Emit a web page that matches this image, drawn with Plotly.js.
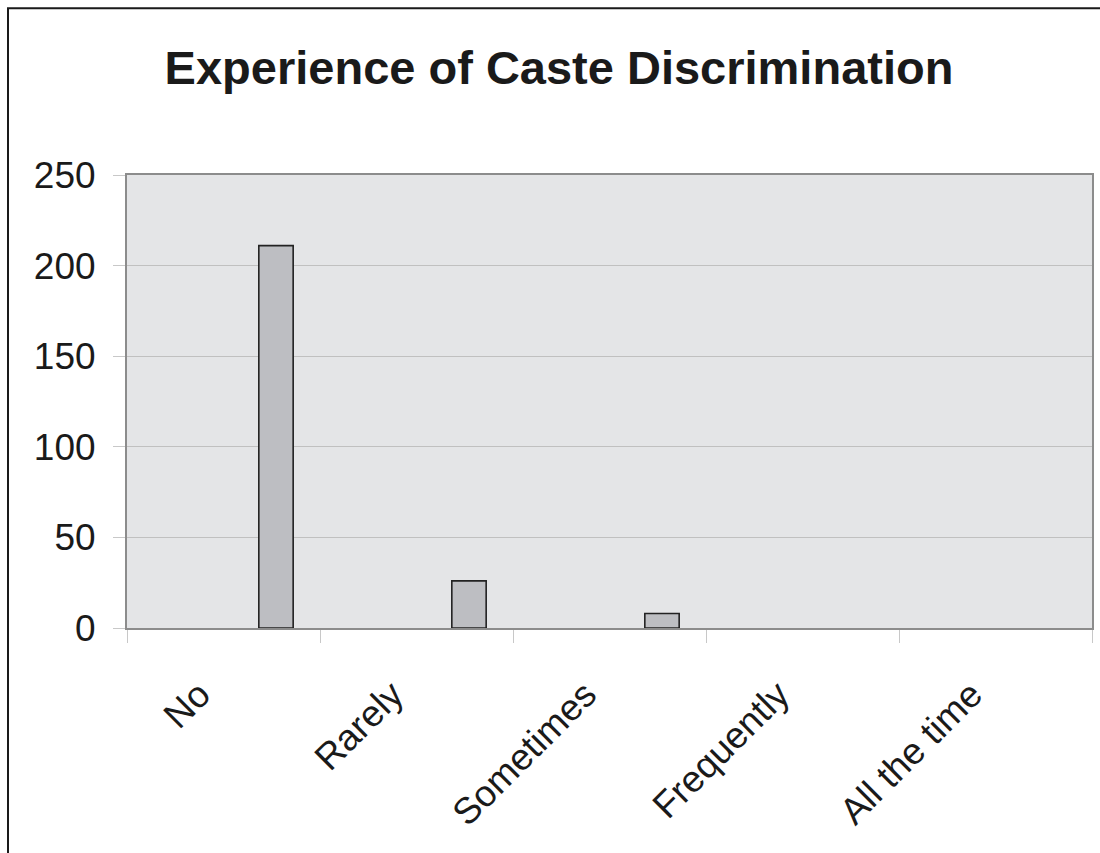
<!DOCTYPE html>
<html>
<head>
<meta charset="utf-8">
<script src="https://cdn.plot.ly/plotly-3.0.1.min.js"></script>
<style>
  html, body { margin: 0; padding: 0; background: #ffffff; }
  #chart { width: 1100px; height: 853px; }
</style>
</head>
<body>
<div id="chart"></div>
<script>
const categories = ['No', 'Rarely', 'Sometimes', 'Frequently', 'All the time'];
const counts = [211, 26, 8, 0, 0];
const yTicks = [0, 50, 100, 150, 200, 250];
const chartTitle = 'Experience of Caste Discrimination';

const W = 1100, H = 853;
const L = 127, R = 1092, T = 175, B = 628.5;
const pw = R - L, ph = B - T;
const FONT = 'Liberation Sans, Arial, Helvetica, sans-serif';

const trace = {
  type: 'bar',
  x: categories,
  y: counts,
  offset: 0.183,
  width: 0.178,
  marker: {
    color: '#bdbec2',
    line: { color: '#222222', width: counts.map(v => v > 0 ? 1.6 : 0) }
  },
  hoverinfo: 'x+y'
};

const layout = {
  width: W,
  height: H,
  margin: { l: L, r: W - R, t: T, b: H - B, pad: 0 },
  paper_bgcolor: '#ffffff',
  plot_bgcolor: '#e4e5e7',
  showlegend: false,
  font: { family: FONT, color: '#1a1a1a', size: 37 },
  title: {
    text: '<b>' + chartTitle + '</b>',
    font: { family: FONT, size: 47, color: '#1a1a1a' },
    x: 559 / W,
    xref: 'container',
    xanchor: 'center',
    y: 1 - 68 / H,
    yref: 'container',
    yanchor: 'middle'
  },
  xaxis: {
    type: 'category',
    range: [-0.5, 4.5],
    tickangle: -45,
    tickson: 'boundaries',
    ticks: 'outside',
    ticklen: 13,
    tickwidth: 1,
    tickcolor: '#c8c8c8',
    ticklabelstandoff: 28,
    ticklabelshift: -24,
    tickfont: { family: FONT, size: 37, color: '#1a1a1a' },
    showgrid: false,
    showline: true,
    linecolor: '#8c8c8c',
    linewidth: 2,
    mirror: true,
    zeroline: false,
    fixedrange: true
  },
  yaxis: {
    range: [0, 250],
    tickvals: yTicks,
    ticktext: yTicks.map(String),
    ticks: 'outside',
    ticklen: 12,
    tickwidth: 1,
    tickcolor: '#c8c8c8',
    ticklabelstandoff: 10,
    tickfont: { family: FONT, size: 37, color: '#1a1a1a' },
    showgrid: true,
    gridcolor: '#c0c0c0',
    gridwidth: 1,
    showline: true,
    linecolor: '#8c8c8c',
    linewidth: 2,
    mirror: true,
    zeroline: false,
    fixedrange: true
  },
  shapes: [{
    type: 'rect',
    xref: 'paper', yref: 'paper',
    x0: (8 - L) / pw, x1: (1115 - L) / pw,
    y0: (B - 880) / ph, y1: (B - 8) / ph,
    line: { color: '#1a1a1a', width: 2 },
    fillcolor: 'rgba(0,0,0,0)',
    layer: 'above'
  }]
};

Plotly.newPlot('chart', [trace], layout, { displayModeBar: false, staticPlot: true });
</script>
</body>
</html>
